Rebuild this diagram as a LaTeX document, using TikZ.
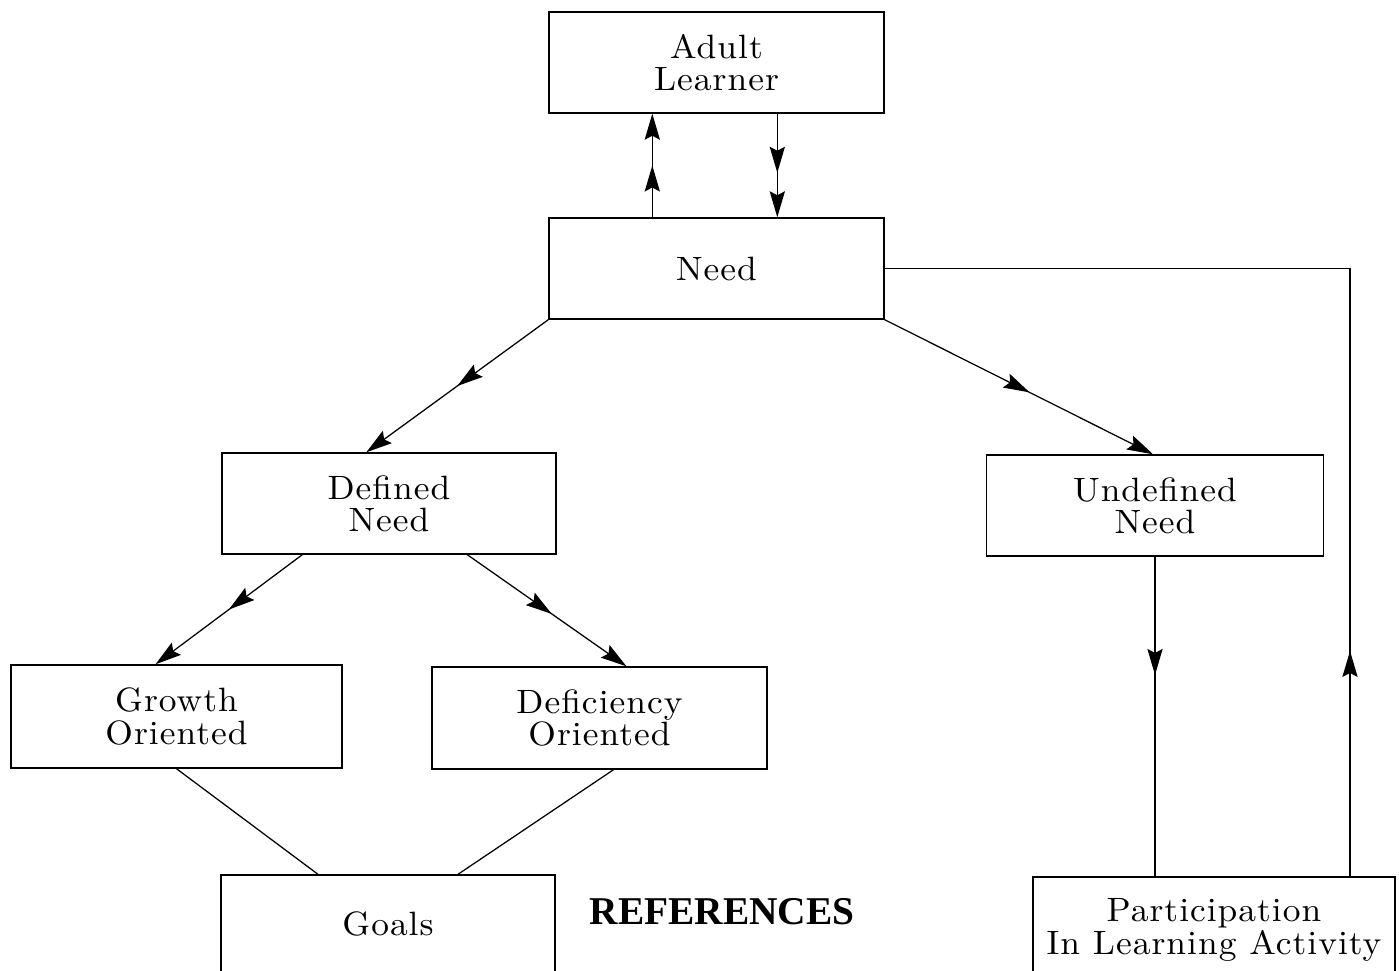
\documentclass[tikz,border=0pt]{standalone}
\usepackage{fontspec}
\newfontfamily\refont{Liberation Serif}
\newfontfamily\boxfont{lmroman10-regular.otf}[FakeStretch=1.05, LetterSpace=3]
\usetikzlibrary{arrows.meta,decorations.markings,calc}
\tikzset{
  box/.style={draw, line width=1pt, rectangle, inner sep=0pt, align=center,
    font=\boxfont\fontsize{24}{23}\selectfont},
  bs/.style 2 args={minimum width=#1*0.025cm, minimum height=#2*0.025cm},
  tipA/.tip={Stealth[length=6.5mm,width=3.8mm,inset=1mm]},
  conn/.style={line width=0.9pt},
  arr/.style={conn, -{tipA}},
  midtip/.style={postaction={decorate},
    decoration={markings, mark=at position #1 with {\arrow{tipA}}}},
}
\begin{document}
\begin{tikzpicture}[x=0.025cm, y=-0.025cm]
\clip (0,0) rectangle (1399,971);
\fill[white] (0,0) rectangle (1399,971);
% boxes
\node[box, bs={335}{101}] (al) at (716.5,62.5) {Adult\\Learner};
\node[box, bs={335}{101}] (need) at (716.5,268.5) {Need};
\node[box, bs={334}{101}] (dn) at (389,503.5) {Defined\\Need};
\node[box, bs={337}{101}] (un) at (1155,505.5) {Undefined\\Need};
\node[box, bs={331}{103}] (go) at (176.5,716.5) {Growth\\Oriented};
\node[box, bs={335}{102}] (do) at (599.5,718) {Deficiency\\Oriented};
\node[box, bs={334}{98}] (goals) at (388,924) {Goals};
\node[box, bs={362}{106}] (part) at (1214,930) {Participation\\In Learning Activity};
\node[font=\refont\bfseries\fontsize{28}{30}\selectfont, inner sep=0pt] (ref) at (722,912) {REFERENCES};
% connectors
\draw[arr, midtip=0.5] ($(need.north west)+(104,0)$) -- ($(al.south west)+(104,0)$);
\draw[arr, midtip=0.57] ($(al.south west)+(229,0)$) -- ($(need.north west)+(229,0)$);
\draw[arr, midtip=0.5] (need.south west) -- ($(dn.north west)+(145,0)$);
\draw[arr, midtip=0.54] (need.south east) -- ($(un.north)+(-2,0)$);
\draw[arr, midtip=0.5] ($(dn.south west)+(81,0)$) -- ($(go.north)+(-21,0)$);
\draw[arr, midtip=0.53] ($(dn.south west)+(246,0)$) -- ($(do.north)+(27,0)$);
\draw[conn] (go.south) -- ($(goals.north)+(-70,0)$);
\draw[conn] ($(do.south)+(14,0)$) -- ($(goals.north)+(70,0)$);
\draw[conn, midtip=0.37] (un.south) -- (un.south |- part.north);
\draw[conn, midtip=0.21] ($(part.north)+(136,0)$) |- (need.east);
\end{tikzpicture}
\end{document}
